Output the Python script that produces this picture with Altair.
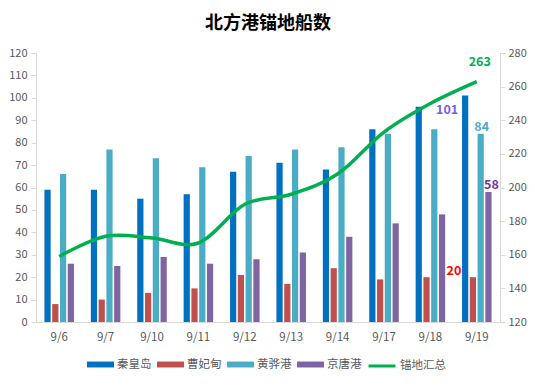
import altair as alt
import pandas as pd

# ---- data ----
dates = ["9/6", "9/7", "9/10", "9/11", "9/12", "9/13", "9/14", "9/17", "9/18", "9/19"]
series_names = ["秦皇岛", "曹妃甸", "黄骅港", "京唐港"]
qhd = [59, 59, 55, 57, 67, 71, 68, 86, 96, 101]
cfd = [8, 10, 13, 15, 21, 17, 24, 19, 20, 20]
hhg = [66, 77, 73, 69, 74, 77, 78, 84, 86, 84]
jtg = [26, 25, 29, 26, 28, 31, 38, 44, 48, 58]
line_name = "锚地汇总"
total = [159, 171, 170, 167, 190, 196, 208, 233, 250, 263]

colors = ["#0070c0", "#c0504d", "#4bacc6", "#8064a2"]
line_color = "#00b050"

rows = []
for name, vals in zip(series_names, [qhd, cfd, hhg, jtg]):
    for d, v in zip(dates, vals):
        rows.append({"date": d, "series": name, "value": v})
bars_df = pd.DataFrame(rows)
line_df = pd.DataFrame({"date": dates, "total": total, "name": [line_name] * len(dates)})

FONT = "Noto Sans CJK SC"
LABEL = "#595959"
AXISLINE = "#d9d9d9"

x_enc = alt.X(
    "date:N", sort=dates,
    scale=alt.Scale(domain=dates, paddingInner=0.33, paddingOuter=0.165),
    axis=alt.Axis(title=None, labelAngle=0, ticks=False, labelPadding=9,
                  domainColor=AXISLINE, labelFontSize=11.5, labelColor=LABEL, labelFont=FONT),
)
xo = alt.XOffset(
    "series:N", sort=series_names,
    scale=alt.Scale(domain=series_names, paddingInner=0.2, paddingOuter=0.1),
)
yl = alt.Y(
    "value:Q",
    scale=alt.Scale(domain=[0, 120], nice=False),
    axis=alt.Axis(title=None, values=list(range(0, 121, 10)), domainColor=AXISLINE,
                  tickColor=AXISLINE, tickSize=5, labelPadding=4, labelFontSize=11,
                  labelColor=LABEL, labelFont=FONT),
)
yr = alt.Y(
    "total:Q",
    scale=alt.Scale(domain=[120, 280], nice=False),
    axis=alt.Axis(title=None, orient="right", values=list(range(120, 281, 20)),
                  domainColor=AXISLINE, tickColor=AXISLINE, tickSize=5, labelPadding=3,
                  labelFontSize=11, labelColor=LABEL, labelFont=FONT),
)

bars = alt.Chart(bars_df).mark_bar().encode(
    x=x_enc, xOffset=xo, y=yl,
    color=alt.Color(
        "series:N", sort=series_names,
        scale=alt.Scale(domain=series_names, range=colors),
        legend=alt.Legend(orient="none", legendX=51, legendY=298, direction="horizontal",
                          title=None, symbolType="M-1,-0.22L1,-0.22L1,0.22L-1,0.22Z",
                          symbolSize=729, symbolStrokeWidth=0, symbolOpacity=1,
                          labelFont=FONT, labelFontSize=11.5, labelColor=LABEL,
                          labelOffset=3, columnPadding=5, padding=0, labelLimit=200),
    ),
)


def bar_label(series, color, dx, dy):
    return alt.Chart(bars_df).transform_filter(
        (alt.datum.date == dates[-1]) & (alt.datum.series == series)
    ).mark_text(color=color, fontWeight="bold", fontSize=12.5, font=FONT,
                dx=dx, dy=dy, baseline="middle").encode(
        x=x_enc, xOffset=xo, y=yl, text="value:Q"
    )


labels = [
    bar_label(series_names[0], "#7460e6", -18, 14),
    bar_label(series_names[1], "#ff0000", -19, -6),
    bar_label(series_names[2], "#4bacc6", 1, -7),
    bar_label(series_names[3], "#7030a0", 3, -7),
]

line = alt.Chart(line_df).mark_line(interpolate="cardinal", strokeWidth=3.5).encode(
    x=x_enc, y=yr,
    stroke=alt.Stroke(
        "name:N",
        scale=alt.Scale(domain=[line_name], range=[line_color]),
        legend=alt.Legend(orient="none", legendX=331, legendY=298, direction="horizontal",
                          title=None, symbolType="stroke", symbolSize=729,
                          symbolStrokeWidth=3, labelFont=FONT, labelFontSize=11.5,
                          labelColor=LABEL, labelOffset=3, padding=0, labelLimit=200),
    ),
)
line_label = alt.Chart(line_df).transform_filter(
    alt.datum.date == dates[-1]
).mark_text(color=line_color, fontWeight="bold", fontSize=12.5, font=FONT,
            dx=3, dy=-20, baseline="middle").encode(x=x_enc, y=yr, text="total:Q")

chart = alt.layer(
    alt.layer(bars, *labels),
    alt.layer(line, line_label),
).resolve_scale(y="independent").properties(
    width=464, height=269,
    autosize=alt.AutoSizeParams(type="none"),
    padding={"left": 28, "top": 45, "right": 27, "bottom": 48},
    title=alt.TitleParams("北方港锚地船数", font=FONT, fontSize=18, fontWeight="bold",
                          color="#000000", anchor="middle", offset=14),
    background="white",
).configure_view(stroke=None).configure_axis(grid=False)

chart.save("out.html", embed_options={"renderer": "svg", "actions": False})
